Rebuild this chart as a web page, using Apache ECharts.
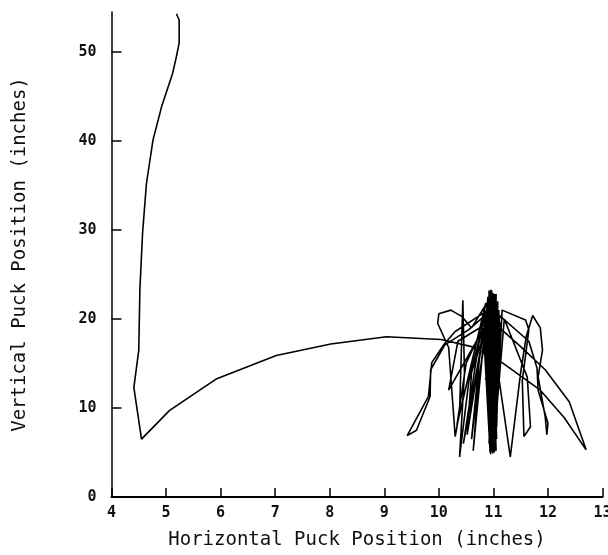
<!DOCTYPE html>
<html>
<head>
<meta charset="utf-8">
<script src="https://cdn.jsdelivr.net/npm/echarts@6/dist/echarts.min.js"></script>
<style>
html,body{margin:0;padding:0;background:#fff;}
#c{width:608px;height:555px;}
</style>
</head>
<body>
<div id="c"></div>
<script>
// Puck trajectory (inches)
// Descent from the top and the long glide to the right
var xDescent = [5.19,5.24,5.24,5.19,5.12,4.92,4.76,4.64,4.57,4.52,4.50,4.41,4.55,5.06,5.93,7.02,8.02,9.04,10.04];
var yDescent = [54.3,53.6,51.0,49.5,47.6,43.9,40.1,35.2,29.7,23.3,16.5,12.3,6.5,9.7,13.3,15.9,17.2,18.0,17.7];

// Bouncing about the goal area
var xCluster = [
  10.6,11.16,11.86,12.3,12.7,12.39,11.95,11.5,11.15,
  10.96,11.0,10.93,11.04,10.9,
  10.3,10.1,9.87,9.81,9.42,9.59,9.84,9.85,10.11,10.55,10.92,
  11.02,10.97,11.06,10.88,
  10.6,10.42,10.22,10.0,9.98,10.18,10.3,10.38,10.44,10.47,10.38,10.55,10.85,
  10.95,11.03,10.92,11.08,10.98,10.9,
  10.63,10.72,10.9,10.52,10.6,10.92,10.18,10.35,10.88,
  11.0,10.95,11.05,10.9,11.02,11.0,10.94,11.1,10.96,10.93,
  10.84,11.0,10.88,10.96,11.12,10.98,10.95,11.04,10.83,10.94,11.1,11.02,
  10.86,11.05,11.13,10.95,10.9,11.03,10.85,10.99,11.08,10.97,10.87,11.06,
  11.11,11.0,10.92,10.93,11.12,10.98,10.84,11.02,11.05,10.96,10.86,11.04,11.1,10.97,
  10.85,11.12,10.83,11.13,10.86,11.1,10.85,11.09,10.88,11.07,10.9,11.05,10.92,11.04,10.95,
  10.88,10.45,10.7,10.86,10.33,10.5,10.8,10.6,10.75,10.9,
  11.14,10.84,11.12,10.86,11.11,10.87,11.08,10.9,11.06,10.93,11.03,
  11.16,11.59,11.65,11.53,11.56,11.68,11.62,11.2,
  11.0,10.98,11.04,10.9,
  11.05,11.31,11.5,
  11.6,11.72,11.86,11.9,11.82,11.95,11.98,12.0,11.82,11.8,11.65,
  11.0,10.96,11.03,10.92,11.06,10.97,11.0
];
var yCluster = [
  16.9,15.1,12.0,8.9,5.3,10.7,14.3,16.9,18.8,
  23.0,5.5,22.4,6.2,21.0,
  18.6,17.2,15.1,11.3,6.9,7.5,11.3,14.3,17.1,18.8,20.8,
  5.0,23.2,6.5,21.8,
  19.0,20.3,21.0,20.6,19.5,16.8,6.8,9.5,22.1,14.0,4.5,13.0,20.5,
  4.8,22.8,6.0,21.5,5.8,22.4,
  5.2,12.0,21.5,7.0,14.0,20.0,12.0,17.5,19.5,
  6.8,23.3,5.2,20.8,7.5,22.9,5.6,20.5,6.2,22.0,
  19.5,6.0,21.5,7.2,19.0,5.5,23.0,8.0,17.5,5.0,21.0,6.8,
  16.0,9.0,18.0,5.8,22.5,7.5,20.5,4.9,22.0,6.3,18.5,7.8,
  20.5,5.3,23.2,8.5,16.5,6.6,21.0,5.1,22.8,7.0,15.0,9.5,17.0,5.7,
  19.2,18.4,17.1,16.3,15.2,14.1,13.3,12.2,11.1,10.2,9.1,8.2,7.0,6.1,5.1,
  20.5,6.0,16.0,21.8,8.0,15.0,19.0,6.5,14.0,19.5,
  20.3,18.8,17.6,15.9,14.7,12.6,11.4,9.7,8.6,6.9,5.6,
  21.0,19.9,18.8,13.1,6.8,7.9,13.5,20.0,
  5.4,22.6,7.0,21.0,
  15.5,4.5,14.0,
  18.0,20.4,19.0,16.5,13.5,9.0,7.0,8.3,12.0,14.5,17.5,
  21.0,6.0,22.0,7.2,19.5,8.0,18.0
];

var xTicks = [4,5,6,7,8,9,10,11,12,13];
var yTicks = [0,10,20,30,40,50];
var xName = 'Horizontal Puck Position (inches)';
var yName = 'Vertical Puck Position (inches)';

var path = [];
for (var i = 0; i < xDescent.length; i++) path.push([xDescent[i], yDescent[i]]);
for (var j = 0; j < xCluster.length; j++) path.push([xCluster[j], yCluster[j]]);

var font = 'DejaVu Sans Mono';
var chart = echarts.init(document.getElementById('c'), null, {renderer: 'canvas'});
chart.setOption({
  animation: false,
  backgroundColor: '#fff',
  grid: {left: 111.5, right: 5.5, top: 12, bottom: 58, containLabel: false, outerBoundsMode: 'none'},
  xAxis: {
    type: 'value', min: 4, max: 13, interval: 1,
    name: xName, nameLocation: 'middle', nameGap: 34,
    nameTextStyle: {fontFamily: font, fontSize: 19, color: '#111'},
    axisLine: {lineStyle: {color: '#000', width: 2}},
    axisTick: {inside: true, length: 9, lineStyle: {color: '#000', width: 1.5}},
    axisLabel: {margin: 9, fontFamily: font, fontSize: 15, fontWeight: 'bold', color: '#111',
      formatter: function (v) { return xTicks.indexOf(v) >= 0 ? String(v) : ''; }},
    splitLine: {show: false}
  },
  yAxis: {
    type: 'value', min: 0, max: 54.5, interval: 10,
    name: yName, nameLocation: 'middle', nameGap: 82, nameRotate: 90,
    nameTextStyle: {fontFamily: font, fontSize: 19, color: '#111'},
    axisLine: {lineStyle: {color: '#000', width: 1.5}},
    axisTick: {inside: true, length: 10, lineStyle: {color: '#000', width: 1.5},
      customValues: yTicks},
    axisLabel: {margin: 15, fontFamily: font, fontSize: 15, fontWeight: 'bold', color: '#111',
      customValues: yTicks,
      formatter: function (v) { return yTicks.indexOf(v) >= 0 ? String(v) : ''; }},
    splitLine: {show: false}
  },
  series: [{
    type: 'line',
    data: path,
    showSymbol: false,
    symbol: 'none',
    smooth: false,
    lineStyle: {color: '#000', width: 1.6},
    z: 3
  }]
});
</script>
</body>
</html>
